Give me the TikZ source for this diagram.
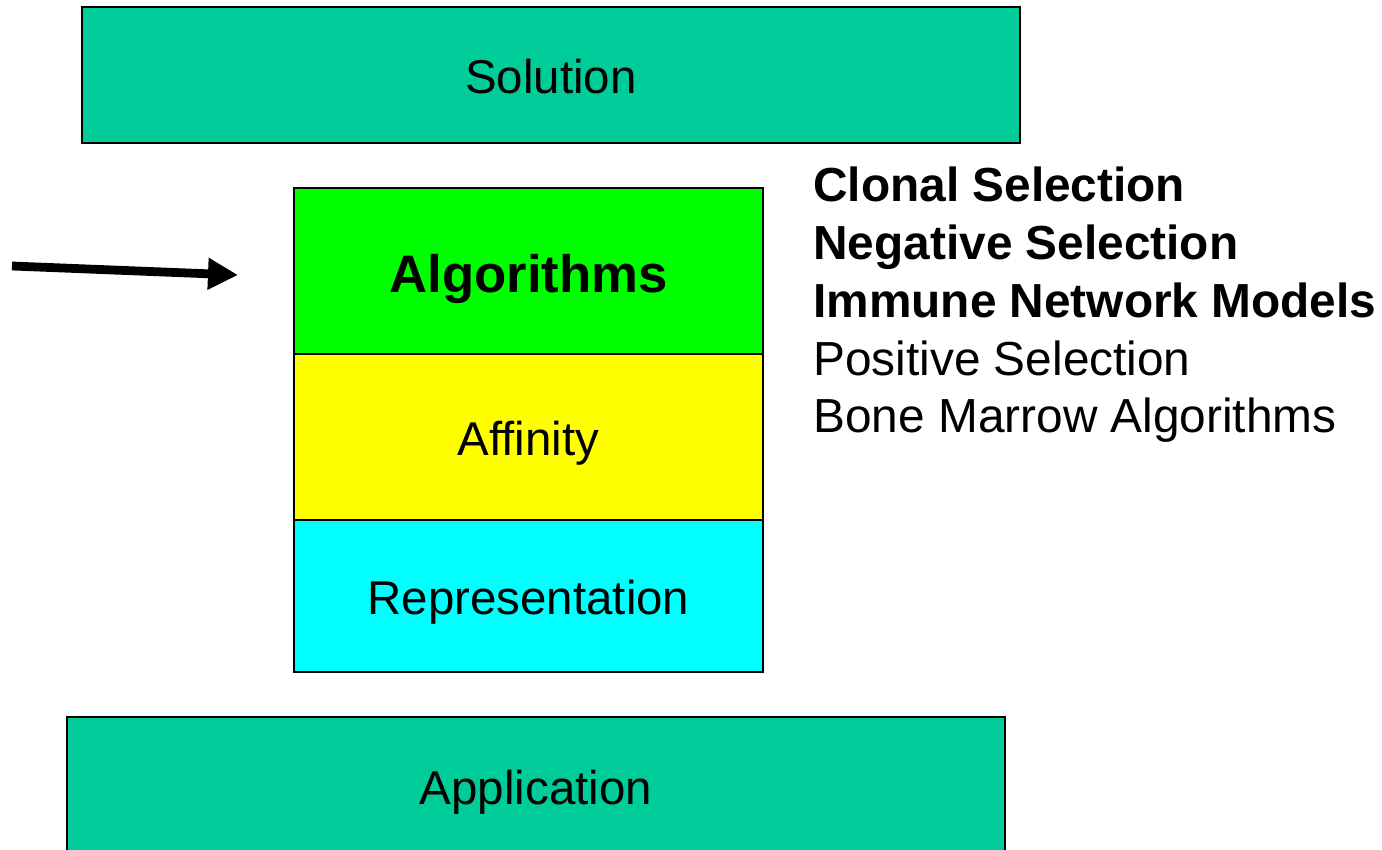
\documentclass[tikz,border=0pt]{standalone}
\usepackage{fontspec}
\setmainfont{Liberation Sans}
\usetikzlibrary{arrows.meta}
\definecolor{layer}{RGB}{0,204,153}
\definecolor{algfill}{RGB}{0,255,0}
\definecolor{afffill}{RGB}{255,255,0}
\definecolor{repfill}{RGB}{0,255,255}
\tikzset{
  layerbox/.style={draw=black,line width=1pt,fill=layer,inner sep=0pt,
    minimum width=18.76cm,text height=21.6pt,text depth=0pt,
    font=\fontsize{27}{32}\selectfont},
  stackbox/.style={draw=black,line width=1pt,inner sep=0pt,
    minimum width=9.38cm,text height=21.6pt,text depth=0pt,
    font=\fontsize{27}{32}\selectfont}
}
\begin{document}
\begin{tikzpicture}
\useasboundingbox (0,0) rectangle (27.64,17);
\node[layerbox,minimum height=2.72cm] (sol) at (11.02,15.5) {Solution};
\node[stackbox,fill=algfill,minimum height=3.32cm,text height=24pt,font=\fontsize{30}{36}\selectfont\bfseries] (alg) at (10.57,11.58) {Algorithms};
\node[stackbox,fill=afffill,minimum height=3.32cm] (aff) at (10.57,8.26) {Affinity};
\node[stackbox,fill=repfill,minimum height=3.04cm] (rep) at (10.57,5.08) {Representation};
\node[layerbox,minimum height=2.76cm] (app) at (10.72,1.28) {Application};
\node[anchor=west,align=left,inner sep=0pt,font=\fontsize{27.2}{32.9}\selectfont] (list) at (16.26,10.9)
  {\textbf{Clonal Selection}\\ \textbf{Negative Selection}\\ \textbf{Immune Network Models}\\ Positive Selection\\ Bone Marrow Algorithms};
\coordinate (from) at (0.24,11.68);
\coordinate (to) at (4.76,11.5);
\draw[line width=5pt,-{Triangle[length=0.6cm,width=0.6cm]}] (from) -- (to);
\end{tikzpicture}
\end{document}
